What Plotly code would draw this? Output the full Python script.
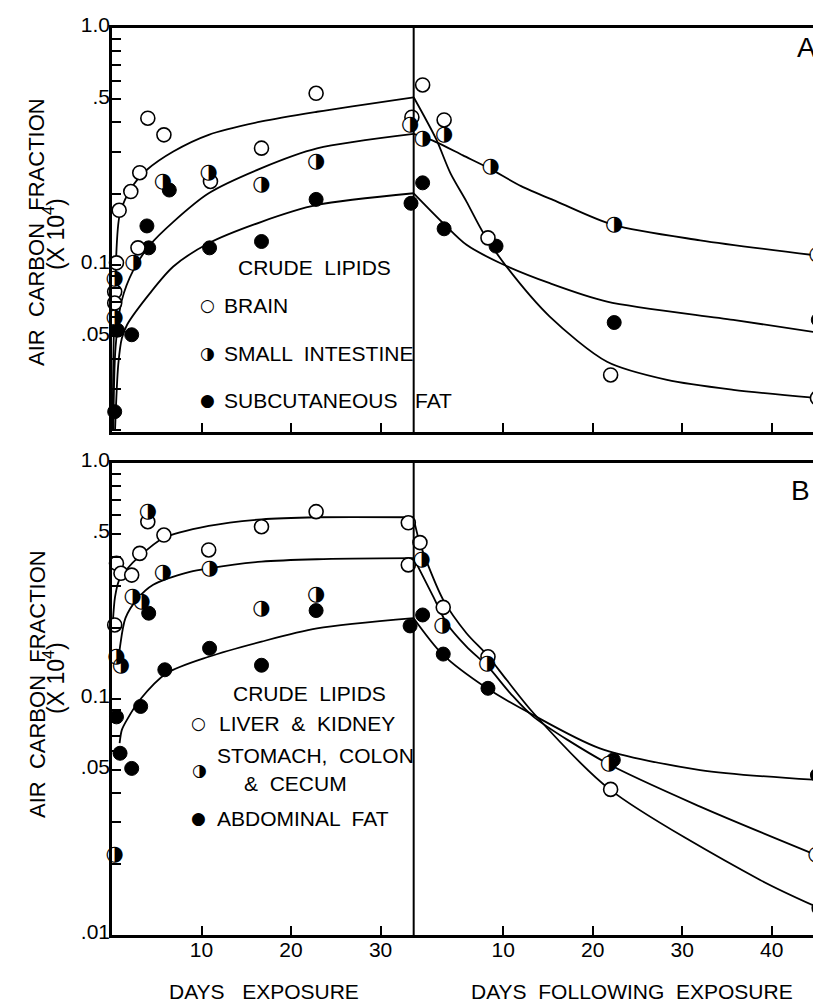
import math
import plotly.graph_objects as go

# ---------------- geometry (reference pixels) ----------------
OFF = 8                      # browser body margin
W, H = 821 - OFF, 1002 - OFF
REF_LEFT, REF_TOP, REF_BOTTOM = 112, 28, 935
ML = REF_LEFT - OFF
MT = REF_TOP - OFF
MB = H - (REF_BOTTOM - OFF)
MR = 0
PLOT_W = W - ML - MR
PLOT_H = H - MT - MB

EXPOSURE_END = 33.7     # day at which exposure stopped (divider)
X_MAX = 79.2            # right edge of the visible frame (total days)

# ---------------- Panel A : crude lipids ----------------
A_BRAIN_EXP_DAY = [0.5, 0.3, 0.3, 0.8, 2.1, 2.9, 3.1, 4.0, 5.8, 11.0, 16.7, 22.8, 33.5]
A_BRAIN_EXP_VAL = [0.102, 0.077, 0.069, 0.170, 0.204, 0.118, 0.245, 0.416, 0.354, 0.225, 0.311, 0.530, 0.42]
A_BRAIN_FOL_DAY = [1.0, 3.4, 8.3, 22.0, 45.1]
A_BRAIN_FOL_VAL = [0.575, 0.409, 0.130, 0.0343, 0.0274]

A_SI_EXP_DAY = [0.3, 0.3, 2.4, 5.7, 10.8, 16.7, 22.8, 33.3]
A_SI_EXP_VAL = [0.087, 0.060, 0.102, 0.225, 0.244, 0.218, 0.273, 0.39]
A_SI_FOL_DAY = [1.0, 3.4, 8.6, 22.4, 45.1]
A_SI_FOL_VAL = [0.342, 0.354, 0.26, 0.1475, 0.110]

A_FAT_EXP_DAY = [0.3, 0.6, 2.2, 3.9, 4.1, 6.4, 10.9, 16.7, 22.8, 33.4]
A_FAT_EXP_VAL = [0.024, 0.053, 0.0507, 0.146, 0.118, 0.207, 0.118, 0.1255, 0.189, 0.182]
A_FAT_FOL_DAY = [1.0, 3.4, 9.2, 22.4, 45.2]
A_FAT_FOL_VAL = [0.222, 0.142, 0.120, 0.0571, 0.0586]

A_BRAIN_CURVE_EXP_DAY = [0.05, 0.15, 0.34, 0.89, 2.4, 3.9, 6.85, 10.8, 16.7, 22.9, 33.7]
A_BRAIN_CURVE_EXP_VAL = [0.02, 0.04, 0.076, 0.165, 0.218, 0.252, 0.301, 0.354, 0.403, 0.443, 0.51]
A_BRAIN_CURVE_FOL_DAY = [0.0, 2.5, 4.1, 5.9, 7.8, 10.4, 15.2, 21.6, 28.3, 35.7, 45.5]
A_BRAIN_CURVE_FOL_VAL = [0.51, 0.34, 0.244, 0.185, 0.136, 0.098, 0.0605, 0.039, 0.0327, 0.0297, 0.0273]

A_SI_CURVE_EXP_DAY = [0.15, 0.4, 1.1, 2.4, 4.25, 6.85, 10.8, 16.7, 22.9, 33.7]
A_SI_CURVE_EXP_VAL = [0.02, 0.045, 0.071, 0.0953, 0.1215, 0.152, 0.2006, 0.256, 0.31, 0.357]
A_SI_CURVE_FOL_DAY = [0.0, 2.5, 5.5, 8.5, 12.0, 16.0, 22.3, 32.0, 45.5]
A_SI_CURVE_FOL_VAL = [0.357, 0.33, 0.29, 0.255, 0.215, 0.185, 0.1475, 0.127, 0.109]

A_FAT_CURVE_EXP_DAY = [0.34, 0.7, 1.1, 1.7, 4.25, 6.85, 10.8, 16.7, 22.9, 33.7]
A_FAT_CURVE_EXP_VAL = [0.02, 0.038, 0.049, 0.056, 0.076, 0.0984, 0.1234, 0.152, 0.179, 0.2006]
A_FAT_CURVE_FOL_DAY = [0.0, 3.3, 5.9, 9.7, 15.2, 21.6, 35.7, 45.5]
A_FAT_CURVE_FOL_VAL = [0.2006, 0.15, 0.1215, 0.1016, 0.0837, 0.07, 0.0586, 0.0515]

# ---------------- Panel B : crude lipids ----------------
B_LIV_EXP_DAY = [0.3, 0.5, 1.0, 2.2, 3.1, 4.0, 5.8, 10.8, 16.7, 22.8, 33.1, 33.1]
B_LIV_EXP_VAL = [0.206, 0.376, 0.341, 0.335, 0.414, 0.564, 0.495, 0.428, 0.537, 0.622, 0.558, 0.37]
B_LIV_FOL_DAY = [0.7, 3.3, 8.3, 22.0, 45.3]
B_LIV_FOL_VAL = [0.46, 0.2445, 0.151, 0.0414, 0.013]

B_STO_EXP_DAY = [0.3, 0.5, 1.0, 2.3, 3.3, 4.0, 5.7, 10.9, 16.7, 22.8]
B_STO_EXP_VAL = [0.0218, 0.151, 0.138, 0.271, 0.258, 0.622, 0.343, 0.358, 0.242, 0.276]
B_STO_FOL_DAY = [0.9, 3.2, 8.2, 21.8, 45.0]
B_STO_FOL_VAL = [0.391, 0.204, 0.1417, 0.0534, 0.0218]

B_FAT_EXP_DAY = [0.5, 0.9, 2.2, 3.2, 4.1, 5.9, 10.9, 16.7, 22.8, 33.3]
B_FAT_EXP_VAL = [0.084, 0.0589, 0.0508, 0.093, 0.231, 0.133, 0.164, 0.139, 0.237, 0.204]
B_FAT_FOL_DAY = [1.0, 3.3, 8.3, 22.3, 45.1]
B_FAT_FOL_VAL = [0.227, 0.155, 0.111, 0.0552, 0.0476]

B_LIV_CURVE_EXP_DAY = [0.1, 0.34, 0.8, 1.8, 3.0, 5.7, 10.8, 16.7, 22.9, 33.7]
B_LIV_CURVE_EXP_VAL = [0.213, 0.271, 0.319, 0.36, 0.40, 0.48, 0.541, 0.577, 0.589, 0.589]
B_LIV_CURVE_FOL_DAY = [0.0, 0.6, 1.3, 3.3, 5.9, 8.2, 10.4, 13.4, 21.9, 38.7, 45.3]
B_LIV_CURVE_FOL_VAL = [0.58, 0.47, 0.395, 0.263, 0.19, 0.1536, 0.1203, 0.087, 0.0414, 0.0171, 0.013]

B_STO_CURVE_EXP_DAY = [0.7, 0.9, 1.5, 2.8, 4.6, 8.7, 10.8, 16.7, 22.9, 33.7]
B_STO_CURVE_EXP_VAL = [0.14, 0.167, 0.22, 0.265, 0.305, 0.346, 0.358, 0.382, 0.391, 0.395]
B_STO_CURVE_FOL_DAY = [0.0, 2.2, 3.7, 5.9, 8.3, 10.8, 13.4, 21.6, 32.0, 45.0]
B_STO_CURVE_FOL_VAL = [0.395, 0.271, 0.209, 0.1667, 0.137, 0.1057, 0.084, 0.0534, 0.035, 0.0218]

B_FAT_CURVE_EXP_DAY = [0.85, 1.1, 1.7, 3.1, 6.1, 10.8, 16.7, 22.9, 33.7]
B_FAT_CURVE_EXP_VAL = [0.065, 0.074, 0.082, 0.099, 0.1285, 0.151, 0.175, 0.199, 0.22]
B_FAT_CURVE_FOL_DAY = [0.0, 3.2, 8.2, 13.0, 20.8, 32.0, 45.0]
B_FAT_CURVE_FOL_VAL = [0.22, 0.155, 0.111, 0.087, 0.0618, 0.050, 0.0454]

# axis ticks
X_TICK_EXP = [10, 20, 30]
X_TICK_FOL = [10, 20, 30, 40]
Y_MAJOR_A = [1.0, 0.5, 0.1, 0.05]
Y_MAJOR_A_TEXT = ["1.0", ".5", "0.1", ".05"]
Y_MAJOR_B = [1.0, 0.5, 0.1, 0.05, 0.01]
Y_MAJOR_B_TEXT = ["1.0", ".5", "0.1", ".05", ".01"]
Y_MINOR = [0.9, 0.8, 0.7, 0.6, 0.4, 0.3, 0.2, 0.09, 0.08, 0.07, 0.06, 0.04, 0.03, 0.02]

FONT = "Liberation Sans, Arial, Helvetica, sans-serif"
SYMFONT = "DejaVu Sans"
INK = "black"


def fol(days):
    return [EXPOSURE_END + d for d in days]


def px_x(px):
    return (px - REF_LEFT) / PLOT_W


def px_y(py):
    return (REF_BOTTOM - py) / PLOT_H


fig = go.Figure()


def add_curve(xs, ys, xa, ya):
    fig.add_trace(go.Scatter(x=xs, y=ys, mode="lines", xaxis=xa, yaxis=ya,
                             line=dict(color=INK, width=1.8, shape="spline", smoothing=0.8),
                             hoverinfo="skip", showlegend=False))


def add_points(xs, ys, kind, xa, ya):
    if kind == "open":
        fig.add_trace(go.Scatter(x=xs, y=ys, mode="markers", xaxis=xa, yaxis=ya, cliponaxis=False,
                                 marker=dict(symbol="circle", size=14, color="white",
                                             line=dict(color=INK, width=1.6)),
                                 showlegend=False))
    elif kind == "filled":
        fig.add_trace(go.Scatter(x=xs, y=ys, mode="markers", xaxis=xa, yaxis=ya, cliponaxis=False,
                                 marker=dict(symbol="circle", size=14, color=INK,
                                             line=dict(color=INK, width=1)),
                                 showlegend=False))
    else:  # half-filled: white disc + right-half-black circle glyph
        fig.add_trace(go.Scatter(x=xs, y=ys, mode="markers+text", xaxis=xa, yaxis=ya, cliponaxis=False,
                                 marker=dict(symbol="circle", size=14, color="white",
                                             line=dict(width=0)),
                                 text=["\u25D1"] * len(xs), textposition="middle center",
                                 textfont=dict(family=SYMFONT, size=21, color=INK),
                                 showlegend=False))


for ed, ev, fd, fv in [
    (A_BRAIN_CURVE_EXP_DAY, A_BRAIN_CURVE_EXP_VAL, A_BRAIN_CURVE_FOL_DAY, A_BRAIN_CURVE_FOL_VAL),
    (A_SI_CURVE_EXP_DAY, A_SI_CURVE_EXP_VAL, A_SI_CURVE_FOL_DAY, A_SI_CURVE_FOL_VAL),
    (A_FAT_CURVE_EXP_DAY, A_FAT_CURVE_EXP_VAL, A_FAT_CURVE_FOL_DAY, A_FAT_CURVE_FOL_VAL),
]:
    add_curve(ed, ev, "x", "y")
    add_curve(fol(fd), fv, "x", "y")

for ed, ev, fd, fv in [
    (B_LIV_CURVE_EXP_DAY, B_LIV_CURVE_EXP_VAL, B_LIV_CURVE_FOL_DAY, B_LIV_CURVE_FOL_VAL),
    (B_STO_CURVE_EXP_DAY, B_STO_CURVE_EXP_VAL, B_STO_CURVE_FOL_DAY, B_STO_CURVE_FOL_VAL),
    (B_FAT_CURVE_EXP_DAY, B_FAT_CURVE_EXP_VAL, B_FAT_CURVE_FOL_DAY, B_FAT_CURVE_FOL_VAL),
]:
    add_curve(ed, ev, "x2", "y2")
    add_curve(fol(fd), fv, "x2", "y2")

add_points(A_FAT_EXP_DAY + fol(A_FAT_FOL_DAY), A_FAT_EXP_VAL + A_FAT_FOL_VAL, "filled", "x", "y")
add_points(A_BRAIN_EXP_DAY + fol(A_BRAIN_FOL_DAY), A_BRAIN_EXP_VAL + A_BRAIN_FOL_VAL, "open", "x", "y")
add_points(A_SI_EXP_DAY + fol(A_SI_FOL_DAY), A_SI_EXP_VAL + A_SI_FOL_VAL, "half", "x", "y")

add_points(B_FAT_EXP_DAY + fol(B_FAT_FOL_DAY), B_FAT_EXP_VAL + B_FAT_FOL_VAL, "filled", "x2", "y2")
add_points(B_LIV_EXP_DAY + fol(B_LIV_FOL_DAY), B_LIV_EXP_VAL + B_LIV_FOL_VAL, "open", "x2", "y2")
add_points(B_STO_EXP_DAY + fol(B_STO_FOL_DAY), B_STO_EXP_VAL + B_STO_FOL_VAL, "half", "x2", "y2")

# ---------------- axes ----------------
tickvals_x = X_TICK_EXP + fol(X_TICK_FOL)
ticktext_x = [str(v) for v in X_TICK_EXP] + [str(v) for v in X_TICK_FOL]

dom_a = [px_y(432), 1.0]
dom_b = [0.0, px_y(463)]
range_a = [math.log10(0.0197), 0]
range_b = [-2, 0]

xcommon = dict(range=[0, X_MAX], showgrid=False, zeroline=False, showline=True, linecolor=INK,
               linewidth=2.5, mirror=True, ticks="inside", ticklen=9, tickwidth=2, tickcolor=INK,
               tickmode="array", tickvals=tickvals_x, ticktext=ticktext_x,
               tickfont=dict(family=FONT, size=21, color=INK), ticklabelstandoff=-6)

ycommon = dict(type="log", showgrid=False, zeroline=False, showline=True, linecolor=INK,
               linewidth=2.5, ticks="inside", ticklen=9, tickwidth=2, tickcolor=INK,
               tickmode="array", tickfont=dict(family=FONT, size=21, color=INK),
               ticklabelstandoff=-5, ticklabelshift=-3)

fig.update_layout(
    width=W, height=H,
    margin=dict(l=ML, r=MR, t=MT, b=MB, pad=0),
    paper_bgcolor="white", plot_bgcolor="white",
    showlegend=False,
    xaxis=dict(xcommon, anchor="y", showticklabels=False),
    yaxis=dict(ycommon, domain=dom_a, anchor="x", range=range_a,
               tickvals=Y_MAJOR_A + Y_MINOR, ticktext=Y_MAJOR_A_TEXT + [""] * len(Y_MINOR)),
    xaxis2=dict(xcommon, anchor="y2", showticklabels=True),
    yaxis2=dict(ycommon, domain=dom_b, anchor="x2", range=range_b,
                tickvals=Y_MAJOR_B + Y_MINOR, ticktext=Y_MAJOR_B_TEXT + [""] * len(Y_MINOR)),
)

for xa, ya in [("x", "y"), ("x2", "y2")]:
    fig.add_shape(type="line", xref=xa, yref=f"{ya} domain", x0=EXPOSURE_END, x1=EXPOSURE_END,
                  y0=0, y1=1, line=dict(color=INK, width=2))

# ---------------- text ----------------
ann = []


def text(px, py, s, size=21, xanchor="center", angle=0, family=FONT):
    ann.append(dict(x=px_x(px), y=px_y(py), xref="paper", yref="paper", text=s, showarrow=False,
                    xanchor=xanchor, yanchor="middle", textangle=angle,
                    font=dict(family=family, size=size, color=INK)))


for cy1, cy2 in [(232, 234), (684, 678)]:
    text(37, cy1, "AIR  CARBON  FRACTION", size=22, angle=-90)
    text(54, cy2, "(X 10<sup>4</sup>)", size=23, angle=-90)

text(806, 48, "A", size=28)
text(800, 490, "B", size=28)

text(314, 267, "CRUDE  LIPIDS", size=21)
text(207, 305, "\u25CB", size=17, family=SYMFONT)
text(222, 305, "BRAIN", size=21, xanchor="left")
text(207, 353, "\u25D1", size=17, family=SYMFONT)
text(222, 353, "SMALL  INTESTINE", size=21, xanchor="left")
text(207, 400, "\u25CF", size=17, family=SYMFONT)
text(222, 400, "SUBCUTANEOUS   FAT", size=21, xanchor="left")

text(309, 693, "CRUDE  LIPIDS", size=21)
text(198, 723, "\u25CB", size=17, family=SYMFONT)
text(217, 723, "LIVER  &  KIDNEY", size=21, xanchor="left")
text(199, 770, "\u25D1", size=17, family=SYMFONT)
text(215, 755, "STOMACH,  COLON", size=21, xanchor="left")
text(242, 783, "&  CECUM", size=21, xanchor="left")
text(198, 818, "\u25CF", size=17, family=SYMFONT)
text(215, 818, "ABDOMINAL  FAT", size=21, xanchor="left")

text(264, 991, "DAYS   EXPOSURE", size=21)
text(632, 991, "DAYS  FOLLOWING  EXPOSURE", size=21)

fig.update_layout(annotations=ann)

fig.write_html("out.html")
